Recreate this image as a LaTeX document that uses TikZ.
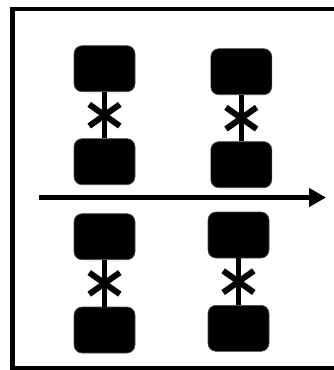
\documentclass[tikz,border=0pt]{standalone}
\usetikzlibrary{arrows.meta,calc}
\begin{document}
\begin{tikzpicture}[x=1pt,y=-1pt,
  blk/.style={fill=black,draw=black!70,line width=0.6pt,rounded corners=8pt,minimum width=61pt,minimum height=46pt,inner sep=0pt},
  link/.style={line width=4.5pt},
  cross/.style={line width=6pt},
  axis/.style={line width=5.7pt,-{Triangle[length=17pt,width=18pt]}}]
\useasboundingbox (0,0) rectangle (334,370);
\clip (0,0) rectangle (334,370);
\draw[line width=4.5pt] (12.5,9) rectangle (350,368);
% boxes
\node[blk] (tl1) at (104.5,68.7) {};
\node[blk] (tl2) at (104.5,161.7) {};
\node[blk] (tr1) at (241.3,71.7) {};
\node[blk] (tr2) at (241.3,164.7) {};
\node[blk] (bl1) at (104.5,236.7) {};
\node[blk] (bl2) at (104.5,330) {};
\node[blk] (br1) at (238.5,235) {};
\node[blk] (br2) at (238.5,328.3) {};
% links
\foreach \a/\b in {tl1/tl2,tr1/tr2,bl1/bl2,br1/br2}{
  \draw[link] (\a.south) -- (\b.north);
  \coordinate (m\a) at ($(\a.south)!0.5!(\b.north)$);
  \draw[cross] ([shift={(-15.3,-10.8)}]m\a) -- ([shift={(15.3,10.8)}]m\a);
  \draw[cross] ([shift={(-15.3,10.8)}]m\a) -- ([shift={(15.3,-10.8)}]m\a);
}
% axis
\coordinate (s) at (39,197.5);
\coordinate (e) at (326,197.5);
\draw[axis] (s) -- (e);
\end{tikzpicture}
\end{document}
